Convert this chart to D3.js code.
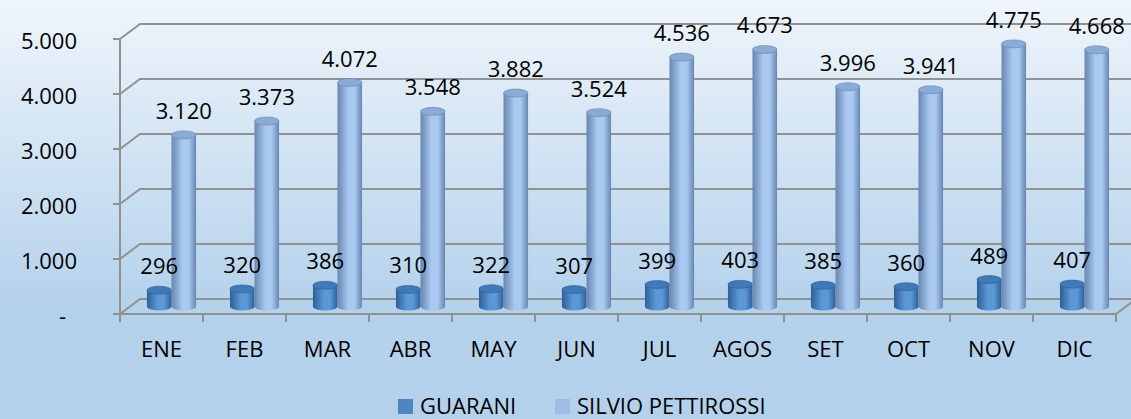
<!DOCTYPE html>
<html>
<head>
<meta charset="utf-8">
<script src="https://cdn.jsdelivr.net/npm/d3@7"></script>
<style>
  body { margin: 0; }
  svg { display: block; font-family: "Open Sans", sans-serif; }
</style>
</head>
<body>
<script>
var width = 1131,
    height = 419;

var months = ["ENE", "FEB", "MAR", "ABR", "MAY", "JUN", "JUL", "AGOS", "SET", "OCT", "NOV", "DIC"];
var series = ["GUARANI", "SILVIO PETTIROSSI"];
var guarani = [296, 320, 386, 310, 322, 307, 399, 403, 385, 360, 489, 407];
var silvio = [3120, 3373, 4072, 3548, 3882, 3524, 4536, 4673, 3996, 3941, 4775, 4668];
var yTicks = [0, 1000, 2000, 3000, 4000, 5000];

var colors = {
  "GUARANI": { edge: "#2f5f98", mid: "#5b98d6", top: "#4079b8", legend: "#4f86c0" },
  "SILVIO PETTIROSSI": { edge: "#6886b0", mid: "#a9c9f0", top: "#8aabd6", legend: "#9dbde2" }
};

// depth of the 3d box
var depthX = 20, depthY = -15;

var locale = d3.formatLocale({ decimal: ",", thousands: ".", grouping: [3], currency: ["", ""] });
var fmt = locale.format(",d");

var svg = d3.select("body").append("svg")
    .attr("width", width)
    .attr("height", height);

var defs = svg.append("defs");

var bg = defs.append("linearGradient").attr("id", "bg")
    .attr("x1", 0).attr("y1", 0).attr("x2", 0).attr("y2", 1);
bg.append("stop").attr("offset", "0%").attr("stop-color", "#eff5fb");
bg.append("stop").attr("offset", "72%").attr("stop-color", "#b5d2ec");
bg.append("stop").attr("offset", "100%").attr("stop-color", "#b4d1ec");

series.forEach(function(s, i) {
  var g = defs.append("linearGradient").attr("id", "cyl" + i)
      .attr("x1", 0).attr("y1", 0).attr("x2", 1).attr("y2", 0);
  g.append("stop").attr("offset", "0%").attr("stop-color", colors[s].edge);
  g.append("stop").attr("offset", "45%").attr("stop-color", colors[s].mid);
  g.append("stop").attr("offset", "70%").attr("stop-color", colors[s].mid);
  g.append("stop").attr("offset", "100%").attr("stop-color", colors[s].edge);
});

svg.append("rect")
    .attr("width", width)
    .attr("height", height)
    .attr("fill", "url(#bg)");

var x = d3.scaleBand()
    .domain(months)
    .range([120, 1116]);

var xSub = d3.scaleBand()
    .domain(series)
    .range([0, x.bandwidth()])
    .paddingOuter(0.69);

var y = d3.scaleLinear()
    .domain([0, 5000])
    .range([314, 39]);

var gridColor = "#919191";
var fontSize = 22;

// back wall gridlines
svg.append("g").selectAll("path")
  .data(yTicks)
  .join("path")
    .attr("d", function(d) {
      return "M120," + y(d) + "L" + (120 + depthX) + "," + (y(d) + depthY) + "H" + (1116 + depthX);
    })
    .attr("fill", "none")
    .attr("stroke", gridColor)
    .attr("stroke-width", 2);

// front vertical axis
svg.append("line")
    .attr("x1", 120).attr("x2", 120)
    .attr("y1", y(5000)).attr("y2", y(0))
    .attr("stroke", gridColor).attr("stroke-width", 2);

svg.append("g").selectAll("line")
  .data(yTicks)
  .join("line")
    .attr("x1", 113).attr("x2", 120)
    .attr("y1", function(d) { return y(d); })
    .attr("y2", function(d) { return y(d); })
    .attr("stroke", gridColor).attr("stroke-width", 2);

svg.append("g").selectAll("text")
  .data(yTicks)
  .join("text")
    .attr("x", function(d) { return d === 0 ? 66 : 77; })
    .attr("y", function(d) { return y(d) + 10; })
    .attr("text-anchor", "end")
    .attr("font-size", fontSize)
    .attr("fill", "#000")
    .text(function(d) { return d === 0 ? "-" : fmt(d); });

// bars (cylinders), at half depth
var rx = xSub.bandwidth() / 2, ry = 4;
var offX = depthX / 2, offY = depthY / 2;

var rows = [];
months.forEach(function(m, i) {
  rows.push({ month: m, key: series[0], value: guarani[i], idx: 0 });
  rows.push({ month: m, key: series[1], value: silvio[i], idx: 1 });
});

var bars = svg.append("g").selectAll("g")
  .data(rows)
  .join("g");

function cx(d) { return x(d.month) + xSub(d.key) + offX + rx; }
function barBase(d) { return y(0) + offY; }
function barTop(d) { return y(d.value) + offY; }

bars.append("ellipse")
    .attr("cx", cx)
    .attr("cy", barBase)
    .attr("rx", rx).attr("ry", ry)
    .attr("fill", function(d) { return "url(#cyl" + d.idx + ")"; });

bars.append("rect")
    .attr("x", function(d) { return cx(d) - rx; })
    .attr("y", barTop)
    .attr("width", rx * 2)
    .attr("height", function(d) { return barBase(d) - barTop(d); })
    .attr("fill", function(d) { return "url(#cyl" + d.idx + ")"; });

bars.append("ellipse")
    .attr("cx", cx)
    .attr("cy", barTop)
    .attr("rx", rx).attr("ry", ry)
    .attr("fill", function(d) { return colors[d.key].top; })
    .attr("stroke", function(d) { return colors[d.key].edge; })
    .attr("stroke-width", 0.6);

// floor front edge
svg.append("path")
    .attr("d", "M120," + y(0) + "H1116L" + (1116 + depthX) + "," + (y(0) + depthY))
    .attr("fill", "none")
    .attr("stroke", gridColor).attr("stroke-width", 2);

svg.append("g").selectAll("line")
  .data(months.concat(["end"]))
  .join("line")
    .attr("x1", function(d) { return d === "end" ? 1116 : x(d); })
    .attr("x2", function(d) { return d === "end" ? 1116 : x(d); })
    .attr("y1", y(0)).attr("y2", y(0) + 8)
    .attr("stroke", gridColor).attr("stroke-width", 2);

svg.append("g").selectAll("text")
  .data(months)
  .join("text")
    .attr("x", function(d) { return x(d) + x.bandwidth() / 2; })
    .attr("y", 357)
    .attr("text-anchor", "middle")
    .attr("font-size", fontSize)
    .text(function(d) { return d; });

// value labels
svg.append("g").selectAll("text")
  .data(rows)
  .join("text")
    .attr("x", cx)
    .attr("y", function(d) { return barTop(d) - 16; })
    .attr("text-anchor", "middle")
    .attr("font-size", fontSize)
    .text(function(d) { return fmt(d.value); });

// legend
var legendX = [398, 555];
var legend = svg.append("g").selectAll("g")
  .data(series)
  .join("g")
    .attr("transform", function(d, i) { return "translate(" + legendX[i] + ",399)"; });

legend.append("rect")
    .attr("width", 15).attr("height", 15)
    .attr("fill", function(d) { return colors[d].legend; });

legend.append("text")
    .attr("x", 22)
    .attr("y", 15)
    .attr("font-size", fontSize)
    .text(function(d) { return d; });
</script>
</body>
</html>
